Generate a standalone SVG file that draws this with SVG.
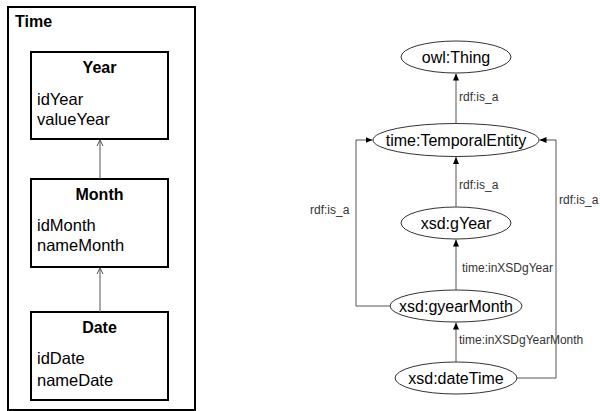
<svg xmlns="http://www.w3.org/2000/svg" width="600" height="411" viewBox="0 0 600 411">
<defs>
<marker id="open" markerWidth="8" markerHeight="8" refX="7" refY="4" orient="auto" markerUnits="userSpaceOnUse"><path d="M1,1 L7,4 L1,7" fill="none" stroke="#555" stroke-width="1"/></marker>
<marker id="tri" markerWidth="8" markerHeight="8" refX="7" refY="4" orient="auto" markerUnits="userSpaceOnUse"><path d="M0,1 L7,4 L0,7 Z" fill="#000"/></marker>
</defs>
<style>
.box{fill:#fff;stroke:#000;stroke-width:2}
.ell{fill:#fff;stroke:#333;stroke-width:1}
.t{font-family:"Liberation Sans",Arial,sans-serif;fill:#000}
.b{font-weight:bold;font-size:16px}
.f{font-size:16.5px}
.n{font-size:16px}
.l{font-size:12px;fill:#333}
.c{fill:none;stroke:#555;stroke-width:1}
</style>
<rect x="0" y="0" width="600" height="411" fill="#fff"/>
<g id="time">
<rect class="box" x="8" y="7" width="187" height="403"/>
<text class="t b" x="15" y="27">Time</text>
</g>
<g id="year">
<rect class="box" x="31" y="52" width="137" height="87"/>
<text class="t b" x="99.5" y="73" text-anchor="middle">Year</text>
<text class="t f" x="37" y="105">idYear</text>
<text class="t f" x="37" y="125">valueYear</text>
</g>
<g id="month">
<rect class="box" x="31" y="179" width="137" height="88"/>
<text class="t b" x="99.5" y="200" text-anchor="middle">Month</text>
<text class="t f" x="37" y="231">idMonth</text>
<text class="t f" x="37" y="251">nameMonth</text>
</g>
<g id="date">
<rect class="box" x="31" y="312" width="137" height="88"/>
<text class="t b" x="99.5" y="333" text-anchor="middle">Date</text>
<text class="t f" x="37" y="364">idDate</text>
<text class="t f" x="37" y="386">nameDate</text>
</g>
<g id="thing">
<ellipse class="ell" cx="456" cy="57" rx="55" ry="16"/>
<text class="t n" x="456" y="63" text-anchor="middle">owl:Thing</text>
</g>
<g id="temporal">
<ellipse class="ell" cx="456" cy="140" rx="83" ry="16.5"/>
<text class="t n" x="456" y="146" text-anchor="middle">time:TemporalEntity</text>
</g>
<g id="gyear">
<ellipse class="ell" cx="456" cy="223" rx="55" ry="16"/>
<text class="t n" x="456" y="229" text-anchor="middle">xsd:gYear</text>
</g>
<g id="gyearmonth">
<ellipse class="ell" cx="456" cy="306" rx="66" ry="16"/>
<text class="t n" x="456" y="312" text-anchor="middle">xsd:gyearMonth</text>
</g>
<g id="datetime">
<ellipse class="ell" cx="456" cy="378" rx="61" ry="16"/>
<text class="t n" x="456" y="384" text-anchor="middle">xsd:dateTime</text>
</g>
<g id="connectors">
<line class="c" x1="100" y1="179" x2="100" y2="140" marker-end="url(#open)"/>
<line class="c" x1="100" y1="312" x2="100" y2="268" marker-end="url(#open)"/>
<line class="c" x1="456" y1="123.5" x2="456" y2="73.5" marker-end="url(#tri)"/>
<line class="c" x1="456" y1="207" x2="456" y2="157" marker-end="url(#tri)"/>
<line class="c" x1="456" y1="290" x2="456" y2="239.5" marker-end="url(#tri)"/>
<line class="c" x1="456" y1="362" x2="456" y2="322.5" marker-end="url(#tri)"/>
<polyline class="c" points="390,306 356,306 356,140 372.5,140" marker-end="url(#tri)"/>
<polyline class="c" points="517,378 556,378 556,140 539.5,140" marker-end="url(#tri)"/>
<text class="t l" x="459" y="101">rdf:is_a</text>
<text class="t l" x="459" y="189">rdf:is_a</text>
<text class="t l" x="310" y="214">rdf:is_a</text>
<text class="t l" x="559" y="204">rdf:is_a</text>
<text class="t l" x="462" y="272">time:inXSDgYear</text>
<text class="t l" x="459" y="344">time:inXSDgYearMonth</text>
</g>
</svg>
